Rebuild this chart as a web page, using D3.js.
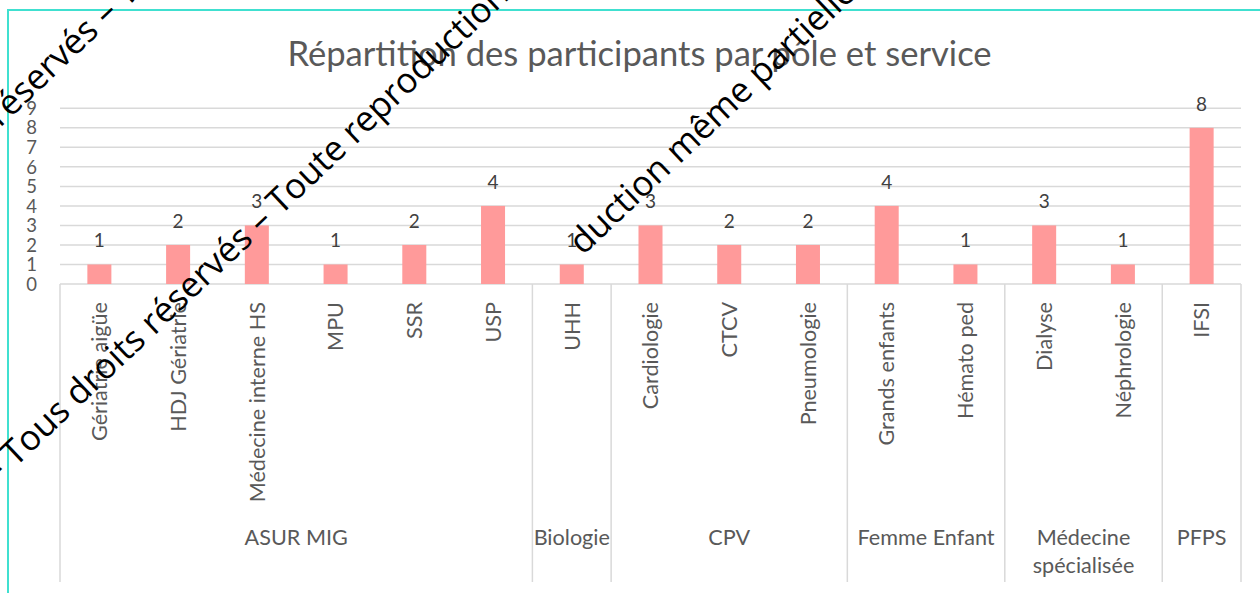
<!DOCTYPE html>
<html><head><meta charset="utf-8">
<script src="https://cdn.jsdelivr.net/npm/d3@7"></script>
<style>html,body{margin:0;padding:0;background:#fff;}svg{display:block;}</style>
</head><body>
<script>
const categories = ["Gériatrie aigüe","HDJ Gériatrie","Médecine interne HS","MPU","SSR","USP","UHH","Cardiologie","CTCV","Pneumologie","Grands enfants","Hémato ped","Dialyse","Néphrologie","IFSI"];
const values = [1,2,3,1,2,4,1,3,2,2,4,1,3,1,8];
const groups = ["ASUR MIG","Biologie","CPV","Femme Enfant","Médecine spécialisée","PFPS"];
const groupSizes = [6,1,3,2,2,1];
const yTicks = [0,1,2,3,4,5,6,7,8,9];
const title = "Répartition des participants par pôle et service";

const W = 1260, H = 593;
const font = "Lato, 'Open Sans', sans-serif";
const svg = d3.select("body").append("svg").attr("width", W).attr("height", H);

const x0 = 60, x1 = 1241, yBase = 284, yTop = 108.3, yAxisBottom = 582;
const x = d3.scaleBand().domain(categories).range([x0, x1]).paddingInner(0.695).paddingOuter(0.3475);
const y = d3.scaleLinear().domain([0, 9]).range([yBase, yTop]);

// chart border
svg.append("rect").attr("x", 8).attr("y", 10).attr("width", 1400).attr("height", 800)
  .attr("fill", "none").attr("stroke", "#40e0d0").attr("stroke-width", 2);

// title
svg.append("text").attr("x", 639.5).attr("y", 66).attr("text-anchor", "middle")
  .attr("font-family", font).attr("font-size", 34.6).attr("fill", "#595959").text(title);

// gridlines
svg.append("g").selectAll("line").data(yTicks).join("line")
  .attr("x1", x0).attr("x2", x1).attr("y1", d => y(d)).attr("y2", d => y(d))
  .attr("stroke", "#d9d9d9").attr("stroke-width", 1.5);

// y tick labels
svg.append("g").selectAll("text").data(yTicks).join("text")
  .attr("x", 37).attr("y", d => y(d)).attr("dy", "0.36em").attr("text-anchor", "end")
  .attr("font-family", font).attr("font-size", 18.5).attr("fill", "#595959").text(d => d);

// bars
svg.append("g").selectAll("rect").data(values).join("rect")
  .attr("x", (d, i) => x(categories[i])).attr("width", x.bandwidth())
  .attr("y", d => y(d)).attr("height", d => yBase - y(d)).attr("fill", "#ff9a9a");

// data labels
svg.append("g").selectAll("text").data(values).join("text")
  .attr("x", (d, i) => x(categories[i]) + x.bandwidth() / 2).attr("y", d => y(d) - 17)
  .attr("text-anchor", "middle").attr("font-family", font).attr("font-size", 19)
  .attr("fill", "#404040").text(d => d);

// category labels
svg.append("g").selectAll("text").data(categories).join("text")
  .attr("transform", d => `translate(${x(d) + x.bandwidth() / 2},302) rotate(-90)`)
  .attr("dy", "0.36em").attr("text-anchor", "end").attr("font-family", font)
  .attr("font-size", 21.6).attr("fill", "#595959").text(d => d);

// group dividers and labels
const step = x.step();
let acc = 0;
const bounds = [0];
groupSizes.forEach(s => { acc += s; bounds.push(acc); });
svg.append("g").selectAll("line").data(bounds).join("line")
  .attr("x1", d => x0 + d * step).attr("x2", d => x0 + d * step)
  .attr("y1", yBase).attr("y2", yAxisBottom).attr("stroke", "#d9d9d9").attr("stroke-width", 1.5);

const gl = svg.append("g");
groups.forEach((g, i) => {
  const gx0 = x0 + bounds[i] * step, gx1 = x0 + bounds[i + 1] * step;
  const t = gl.append("text").attr("x", (gx0 + gx1) / 2).attr("y", 545).attr("text-anchor", "middle")
    .attr("font-family", font).attr("font-size", 21.6).attr("fill", "#595959").text(g);
  if (t.node().getComputedTextLength() > gx1 - gx0 - 2 && g.includes(" ")) {
    t.text(null);
    g.split(" ").forEach((w, k) => {
      t.append("tspan").attr("x", (gx0 + gx1) / 2).attr("y", 545 + k * 28).text(w);
    });
  }
});

// watermark
const wm = svg.append("g").attr("font-family", "'Open Sans', sans-serif").attr("font-size", 35).attr("fill", "#000");
function mark(txt, px, py) {
  wm.append("text").attr("transform", `translate(${px},${py}) rotate(-43.5)`).text(txt);
}
mark("– Tous droits réservés – Toute reproduction", -4, 486);
mark("réservés – Toute", 0, 128);
mark("duction même partielle", 583, 256);
</script>
</body></html>
